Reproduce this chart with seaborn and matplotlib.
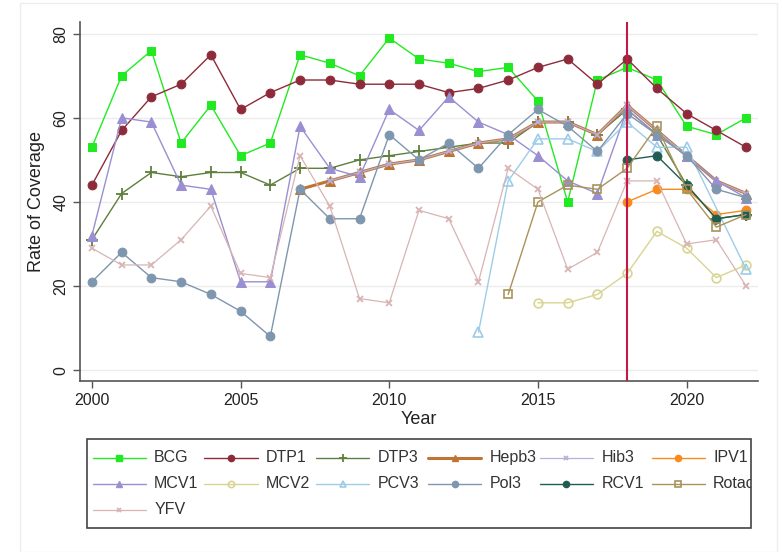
import numpy as np
import pandas as pd
import matplotlib
matplotlib.use("Agg")
import matplotlib.pyplot as plt
from matplotlib.lines import Line2D
from matplotlib.patches import Rectangle
import seaborn as sns

sns.set_style("white")
plt.rcParams['font.family'] = ['Liberation Sans', 'DejaVu Sans']

years = list(range(2000, 2023))
nan = np.nan

# coverage values (2000..2022)
bcg = [53, 70, 76, 54, 63, 51, 54, 75, 73, 70, 79, 74, 73, 71, 72, 64, 40, 69, 72, 69, 58, 56, 60]
dtp1 = [44, 57, 65, 68, 75, 62, 66, 69, 69, 68, 68, 68, 66, 67, 69, 72, 74, 68, 74, 67, 61, 57, 53]
dtp3 = [31, 42, 47, 46, 47, 47, 44, 48, 48, 50, 51, 52, 53, 54, 54, 59, 59, 56, 62, 56, 44, 36, 37]
hepb3 = [nan] * 7 + [43, 45, 47, 49, 50, 52, 54, 55, 59, 59, 56, 63, 57, 51, 45, 42]
hib3 = [nan] * 8 + [45, 47, 49, 50, 52, 54, 55, 59, 59, 56, 63, 57, 51, 45, 42]
ipv1 = [nan] * 18 + [40, 43, 43, 37, 38]
mcv1 = [32, 60, 59, 44, 43, 21, 21, 58, 48, 46, 62, 57, 65, 59, 56, 51, 45, 42, 62, 56, 51, 45, 41]
mcv2 = [nan] * 15 + [16, 16, 18, 23, 33, 29, 22, 25]
pcv3 = [nan] * 13 + [9, 45, 55, 55, 52, 59, 53, 53, nan, 24]
pol3 = [21, 28, 22, 21, 18, 14, 8, 43, 36, 36, 56, 50, 54, 48, 56, 62, 58, 52, 61, 56, 51, 43, 41]
rcv1 = [nan] * 18 + [50, 51, 44, 36, 37]
rotac = [nan] * 14 + [18, 40, 44, 43, 48, 58, 43, 34, 37]
yfv = [29, 25, 25, 31, 39, 23, 22, 51, 39, 17, 16, 38, 36, 21, 48, 43, 24, 28, 45, 45, 30, 31, 20]

names = ["BCG", "DTP1", "DTP3", "Hepb3", "Hib3", "IPV1",
         "MCV1", "MCV2", "PCV3", "Pol3", "RCV1", "Rotac", "YFV"]
values = [bcg, dtp1, dtp3, hepb3, hib3, ipv1, mcv1, mcv2, pcv3, pol3, rcv1, rotac, yfv]

# style per series: color, marker, filled, linewidth, markersize, legend markersize
styles = {
    "BCG":   ("#22EA22", "s", True, 1.0, 6, 4.5),
    "DTP1":  ("#8E2B3A", "o", True, 1.0, 6.3, 4.5),
    "DTP3":  ("#5E7F3C", "+", True, 1.0, 8, 6),
    "Hepb3": ("#BE7432", "^", True, 2.2, 6.5, 5),
    "Hib3":  ("#B8B0DC", "x", True, 0.9, 4, 3),
    "IPV1":  ("#FA8A1E", "o", True, 1.0, 6.3, 4.5),
    "MCV1":  ("#9A8FD0", "^", True, 1.0, 7, 5),
    "MCV2":  ("#D8D592", "o", False, 1.0, 6.3, 4.5),
    "PCV3":  ("#9DCCE8", "^", False, 1.0, 6.5, 5),
    "Pol3":  ("#7E96AE", "o", True, 1.0, 6.3, 4.5),
    "RCV1":  ("#1F5D52", "o", True, 1.0, 6.3, 4.5),
    "Rotac": ("#A8935B", "s", False, 1.0, 6, 4.5),
    "YFV":   ("#D8B4B4", "x", True, 0.9, 4, 3),
}

W, H = 782, 552
fig = plt.figure(figsize=(W / 100, H / 100), dpi=100)
ax = fig.add_axes([80 / W, 171 / H, 678 / W, 359 / H])


def marker_kw(name, legend=False):
    color, marker, filled, lw, ms, lms = styles[name]
    kw = dict(color=color, linewidth=lw, marker=marker, markersize=lms if legend else ms,
              markeredgecolor=color, markerfacecolor=color if filled else "none")
    if marker in ("+", "x"):
        kw["markeredgewidth"] = 1.3
    elif not filled:
        kw["markeredgewidth"] = 1.2
    return kw


for name, vals in zip(names, values):
    df = pd.DataFrame({"Year": years, "Coverage": vals}).dropna()
    sns.lineplot(data=df, x="Year", y="Coverage", ax=ax, legend=False, **marker_kw(name))

ax.axvline(2018, color="#C41848", linewidth=1.5, zorder=5)

ax.set_xlim(1999.6, 2022.4)
ax.set_ylim(-2.6, 82.8)
ax.set_xticks([2000, 2005, 2010, 2015, 2020])
ax.set_yticks([0, 20, 40, 60, 80])
ax.grid(axis="y", color="#ECECEC", linewidth=1)
ax.grid(axis="x", visible=False)
for s in ["top", "right"]:
    ax.spines[s].set_visible(False)
for s in ["left", "bottom"]:
    ax.spines[s].set_color("#555555")
    ax.spines[s].set_linewidth(1.2)
ax.tick_params(axis="both", direction="out", length=5, width=1, color="#555555",
               labelsize=11.5, labelcolor="#222222", bottom=True, left=True)
plt.setp(ax.get_yticklabels(), rotation=90, va="center")
ax.set_xlabel("Year", fontsize=13, color="#222222", labelpad=2)
ax.set_ylabel("Rate of Coverage", fontsize=13, color="#222222", labelpad=6)

# legend drawn row by row with a fixed column pitch, like the original
box = Rectangle((87 / W, 1 - 528 / H), (751 - 87) / W, 89 / H, transform=fig.transFigure,
                fill=False, edgecolor="#444444", linewidth=1.2)
fig.patches.append(box)
row_y = [457.7, 483.5, 510]
for i, name in enumerate(names):
    r, c = divmod(i, 6)
    x0 = 92.7 + c * 111.8
    y = 1 - row_y[r] / H
    kw = marker_kw(name, legend=True)
    ms = kw.pop("markersize")
    fig.add_artist(Line2D([x0 / W, (x0 + 53) / W], [y, y], transform=fig.transFigure,
                          color=kw["color"], linewidth=kw["linewidth"]))
    fig.add_artist(Line2D([(x0 + 26.5) / W], [y], transform=fig.transFigure, linestyle="none",
                          marker=kw["marker"], markersize=ms,
                          markeredgecolor=kw["markeredgecolor"],
                          markerfacecolor=kw["markerfacecolor"],
                          markeredgewidth=kw.get("markeredgewidth", 1.0)))
    t = fig.text((x0 + 61.5) / W, y, name, fontsize=11.5, color="#333333", va="center", ha="left")
    t.set_clip_path(box)

fig.patches.append(Rectangle((20 / W, 0), 757 / W, 549 / H, transform=fig.transFigure,
                             fill=False, edgecolor="#EEEEEE", linewidth=1))

fig.savefig("out.png", dpi=100)
